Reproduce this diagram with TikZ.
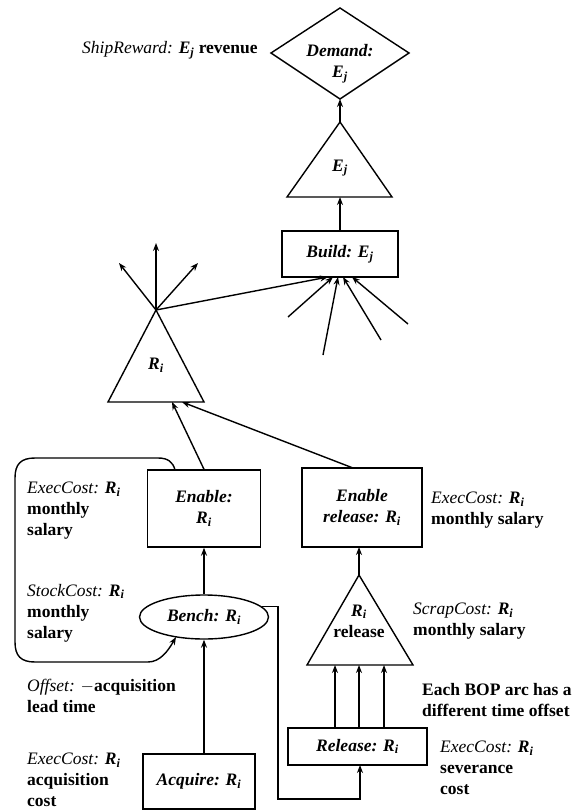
\documentclass[tikz,border=0pt]{standalone}
\usepackage{fontspec}
\setmainfont{Liberation Serif}
\usetikzlibrary{arrows.meta,shapes.geometric}
\newcommand\sbx[2]{\textit{#1}\textsubscript{\textit{#2}}}
\newcommand\fsz{\fontsize{17.5}{21}\selectfont}
\begin{document}
\begin{tikzpicture}[x=1pt,y=-1pt,
  every node/.style={font=\fsz},
  box/.style={draw,line width=1.4pt,inner sep=0,align=center,font=\fsz\bfseries\itshape},
  tlabel/.style={inner sep=0,align=center,font=\fsz\bfseries\itshape},
  lbl/.style={inner sep=0,anchor=west,align=left},
  conn/.style={line width=1.4pt,-{Stealth[length=8pt,width=6pt]}},
  outl/.style={line width=1.4pt,line join=miter}
]
\useasboundingbox (0,0) rectangle (574,811);

% Demand diamond
\draw[outl] (340,8) -- (409,53) -- (340,99) coordinate (dB) -- (271,53) -- cycle;
\node[tlabel] (demand) at (340,64) {Demand:\\\sbx{E}{j}};
\node[lbl] (shiprew) at (82,50) {\textit{ShipReward:} \textbf{\sbx{E}{j}} \textbf{revenue}};

% E_j triangle
\draw[outl] (340,122) coordinate (eA) -- (392,197) -- (287,197) -- cycle;
\coordinate (eB) at (340,197);
\node[tlabel] (ej) at (340,168) {\sbx{E}{j}};
\draw[conn] (eA) -- (dB);

% Build
\node[box,minimum width=116pt,minimum height=46pt] (build) at (340,254) {Build: \sbx{E}{j}};
\draw[conn] (build.north) -- (eB);
\coordinate (bIn0) at (328,277);
\coordinate (bIn1) at (333,277);
\coordinate (bIn2) at (338,277);
\coordinate (bIn3) at (343,277);
\coordinate (bIn4) at (352,277);
\coordinate (f1) at (288,317);
\coordinate (f2) at (323,355);
\coordinate (f3) at (381,340);
\coordinate (f4) at (408,324);
\draw[conn] (f1) -- (bIn1);
\draw[conn] (f2) -- (bIn2);
\draw[conn] (f3) -- (bIn3);
\draw[conn] (f4) -- (bIn4);

% R_i triangle
\draw[outl] (156,310) coordinate (rA) -- (204,402) -- (108,402) -- cycle;
\coordinate (rB1) at (172,402);
\coordinate (rB2) at (182,402);
\node[tlabel] (ri) at (156,365) {\sbx{R}{i}};
\coordinate (o1) at (119,263);
\coordinate (o2) at (156,243);
\coordinate (o3) at (198,263);
\draw[conn] (rA) -- (o1);
\draw[conn] (rA) -- (o2);
\draw[conn] (rA) -- (o3);
\draw[conn] (rA) -- (bIn0);

% Enable
\node[box,minimum width=113pt,minimum height=77pt] (enable) at (204,508.5) {Enable:\\\sbx{R}{i}};
\draw[conn] (enable.north) -- (rB1);
\node[lbl] (ecEnable) at (27,511) {\textit{ExecCost:} \textbf{\sbx{R}{i}}\\\textbf{monthly}\\\textbf{salary}};

% Enable release
\node[box,minimum width=120pt,minimum height=79pt] (enrel) at (362,507.5) {Enable\\release: \sbx{R}{i}};
\coordinate (enrelT) at (353,468);
\coordinate (enrelB) at (359,547);
\draw[conn] (enrelT) -- (rB2);
\node[lbl] (ecEnrel) at (431,510) {\textit{ExecCost:} \textbf{\sbx{R}{i}}\\\textbf{monthly salary}};

% Release triangle
\draw[outl] (359,575) coordinate (tA) -- (413,665) -- (307,665) -- cycle;
\node[tlabel] (relri) at (359,621) {\sbx{R}{i}\\\upshape release};
\draw[conn] (tA) -- (enrelB);
\node[lbl] (scrap) at (413,621) {\textit{ScrapCost:} \textbf{\sbx{R}{i}}\\\textbf{monthly salary}};
\coordinate (tB1) at (335,665);
\coordinate (tB2) at (359,665);
\coordinate (tB3) at (384,665);

% Release box
\node[box,minimum width=139pt,minimum height=37pt] (release) at (357.5,746.5) {Release: \sbx{R}{i}};
\coordinate (rl1) at (335,728);
\coordinate (rl2) at (359,728);
\coordinate (rl3) at (384,728);
\draw[conn] (rl1) -- (tB1);
\draw[conn] (rl2) -- (tB2);
\draw[conn] (rl3) -- (tB3);
\node[lbl] (bop) at (422,700) {\textbf{Each BOP arc has a}\\\textbf{different time offset}};
\node[lbl] (ecRel) at (440,768) {\textit{ExecCost:} \textbf{\sbx{R}{i}}\\\textbf{severance}\\\textbf{cost}};

% Bench
\node[draw,ellipse,line width=1.4pt,inner sep=0,minimum width=129pt,minimum height=44pt,
      font=\fsz\bfseries\itshape] (bench) at (204,617) {Bench: \sbx{R}{i}};
\draw[conn] (bench.north) -- (enable.south);
\node[lbl] (stock) at (27,613) {\textit{StockCost:} \textbf{\sbx{R}{i}}\\\textbf{monthly}\\\textbf{salary}};

% loop
\coordinate (loopS) at (175,470);
\coordinate (loopE) at (176,637);
\draw[conn] (loopS) .. controls (173,462) and (168,458) .. (158,458) -- (35,458)
  .. controls (21,458) and (15,464) .. (15,478) -- (15,642)
  .. controls (15,656) and (21,662) .. (35,662) -- (148,662)
  .. controls (160,662) and (168,651) .. (loopE);

% Acquire
\node[box,minimum width=112pt,minimum height=55pt] (acquire) at (199,781.5) {Acquire: \sbx{R}{i}};
\coordinate (acqT) at (204,754);
\draw[conn] (acqT) -- (bench.south);
\node[lbl] (offset) at (27,696) {\textit{Offset:} \textbf{$-$acquisition}\\\textbf{lead time}};
\node[lbl] (ecAcq) at (27,780) {\textit{ExecCost:} \textbf{\sbx{R}{i}}\\\textbf{acquisition}\\\textbf{cost}};

% Bench to Release
\coordinate (c1) at (278,799);
\coordinate (relIn) at (360,765);
\draw[conn] (bench.10) -| (c1) -| (relIn);
\end{tikzpicture}
\end{document}
